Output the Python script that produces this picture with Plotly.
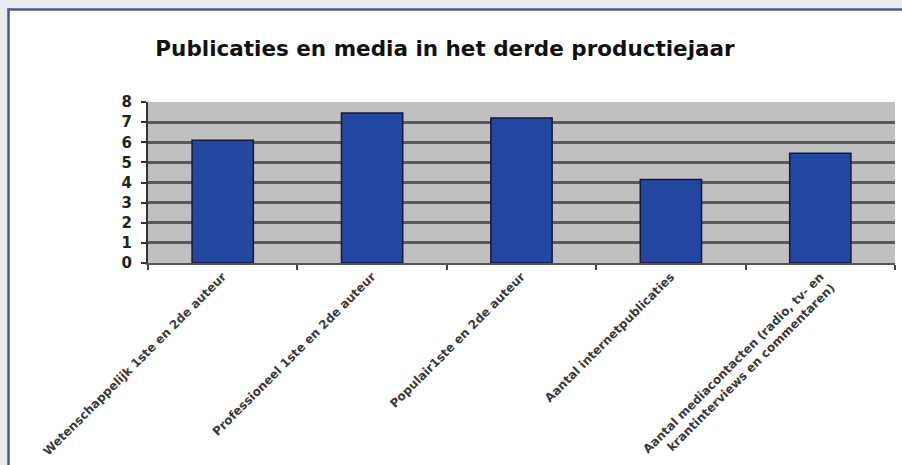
import plotly.graph_objects as go

categories = [
    "Wetenschappelijk 1ste en 2de auteur",
    "Professioneel 1ste en 2de auteur",
    "Populair1ste en 2de auteur",
    "Aantal internetpublicaties",
    "Aantal mediacontacten (radio, tv- en<br>krantinterviews en commentaren)",
]
values = [6.1, 7.45, 7.2, 4.15, 5.45]
y_ticks = [0, 1, 2, 3, 4, 5, 6, 7, 8]
grid_ticks = [1, 2, 3, 4, 5, 6, 7]
title_text = "Publicaties en media in het derde productiejaar"

W, H = 902, 465
ML, MR, MT, MB = 148, 7, 102, 202
PW, PH = W - ML - MR, H - MT - MB


def px_x(px):
    return (px - ML) / PW


def px_y(py):
    return (H - MB - py) / PH


fig = go.Figure()
fig.add_trace(go.Bar(
    x=categories, y=values,
    marker=dict(color="#2347a0", line=dict(color="#15183a", width=1.5)),
    width=0.41,
))
# invisible trace on the overlay axis so grid lines get drawn
fig.add_trace(go.Scatter(x=[categories[0]], y=[0], yaxis="y2", mode="markers",
                         marker=dict(opacity=0), showlegend=False, hoverinfo="skip"))

fig.update_layout(
    width=W, height=H,
    margin=dict(l=ML, r=MR, t=MT, b=MB, autoexpand=False),
    paper_bgcolor="white",
    plot_bgcolor="#c0c0c0",
    showlegend=False,
    title=dict(text=title_text, x=445 / W, xref="container", xanchor="center",
               y=1 - 48 / H, yref="container", yanchor="middle",
               font=dict(family="DejaVu Sans", size=21.5, color="#111", weight="bold")),
    xaxis=dict(
        type="category", tickangle=-45, tickson="boundaries", automargin=False,
        ticks="outside", ticklen=5, tickwidth=1.5, tickcolor="#444",
        showline=True, linecolor="#555", linewidth=2,
        showgrid=False,
        tickfont=dict(family="DejaVu Sans", size=12, color="#3a3a3a", weight="bold"),
    ),
    yaxis=dict(
        range=[0, 8], tickvals=y_ticks, ticks="outside", ticklen=5, tickwidth=1.5,
        tickcolor="#333", showline=True, linecolor="#333", linewidth=2,
        showgrid=False, zeroline=False, automargin=False, ticklabelstandoff=6,
        tickfont=dict(family="DejaVu Sans", size=15, color="#222", weight="bold"),
    ),
    yaxis2=dict(
        overlaying="y", range=[0, 8], tickvals=grid_ticks, showticklabels=False,
        showgrid=True, gridcolor="#5c5a58", gridwidth=2.5, zeroline=False, ticks="",
        showline=False, automargin=False,
    ),
    shapes=[
        dict(type="rect", xref="paper", yref="paper", x0=px_x(-5), x1=px_x(W + 5),
             y0=px_y(8.5), y1=px_y(-5), fillcolor="#ebebf0", line=dict(width=0)),
        dict(type="rect", xref="paper", yref="paper", x0=px_x(-5), x1=px_x(7.5),
             y0=px_y(H + 5), y1=px_y(-5), fillcolor="#ebebf0", line=dict(width=0)),
        dict(type="line", xref="paper", yref="paper", x0=px_x(7.5), x1=px_x(W + 5),
             y0=px_y(9.5), y1=px_y(9.5), line=dict(color="#4a5790", width=2.5)),
        dict(type="line", xref="paper", yref="paper", x0=px_x(8.5), x1=px_x(8.5),
             y0=px_y(H + 5), y1=px_y(8.5), line=dict(color="#4a5790", width=2.5)),
    ],
)

fig.write_html(
    "out.html",
    config={"displayModeBar": False},
    post_script="document.body.style.margin='0';document.body.style.overflow='hidden';",
)
